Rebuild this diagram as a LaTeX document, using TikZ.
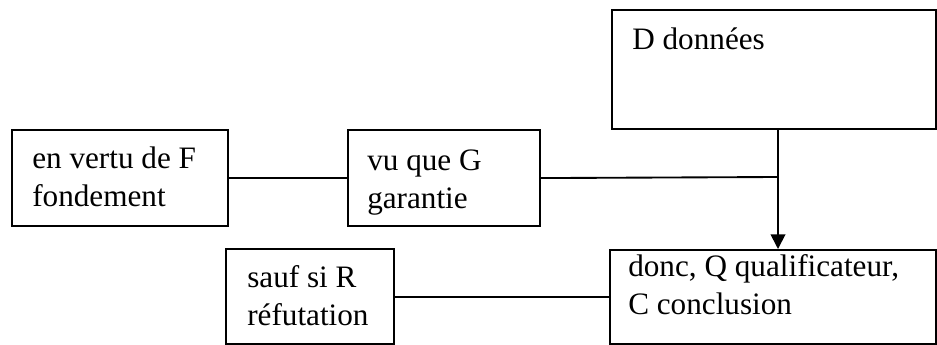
\documentclass[tikz,border=0pt]{standalone}
\usepackage{fontspec}
\setmainfont{Liberation Serif}
\usetikzlibrary{arrows.meta}
\begin{document}
\begin{tikzpicture}[x=0.75pt,y=-0.75pt]
\tikzset{boite/.style={draw, line width=1.6pt, rectangle, inner sep=0pt, anchor=north west},
        texte/.style={anchor=base west, align=left, inner sep=0pt, font=\fontsize{23.4}{28}\selectfont},
        lien/.style={line width=1.4pt}}
        \useasboundingbox (0,0) rectangle (937,345);

        \node[boite, minimum width=162pt, minimum height=72pt] (f) at (11,129) {};
        \node[boite, minimum width=144pt, minimum height=72pt] (g) at (347,129) {};
        \node[boite, minimum width=243pt, minimum height=89.25pt] (d) at (611,9) {};
        \node[boite, minimum width=126pt, minimum height=71.25pt] (r) at (225,248) {};
        \node[boite, minimum width=244.5pt, minimum height=70.5pt] (c) at (609,249) {};

        \node[texte] (ft) at (32,206.3) {en vertu de F\\fondement};
        \node[texte] (gt) at (367,208.3) {vu que G\\garantie};
        \node[texte] (dt) at (632,50) {D données};
        \node[texte] (rt) at (247,325.3) {sauf si R\\réfutation};
        \node[texte] (ct) at (628,314.3) {donc, Q qualificateur,\\C conclusion};

        \coordinate (j) at (778,177);
        \draw[lien] (f.east) -- (f.east -| g.west);
        \draw[lien] (g.east) -- (j);
        \draw[lien, -{Triangle[width=11pt, length=11pt]}] (d.south -| j) -- (c.north -| j);
        \draw[lien] (r.east) -- (r.east -| c.west);
\end{tikzpicture}
\end{document}
